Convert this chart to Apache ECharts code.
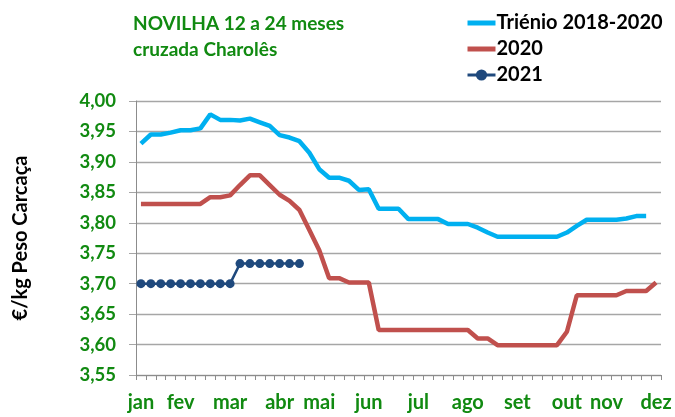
<!DOCTYPE html>
<html>
<head>
<meta charset="utf-8">
<script src="https://cdn.jsdelivr.net/npm/echarts@6/dist/echarts.min.js"></script>
<style>
html,body{margin:0;padding:0;background:#fff;}
#c{width:675px;height:417px;}
</style>
</head>
<body>
<div id="c"></div>
<script>
// Month labels and the week (category index) where each label sits
var monthLabels = ['jan','fev','mar','abr','mai','jun','jul','ago','set','out','nov','dez'];
var monthWeek = [0,4,9,14,18,23,28,33,38,43,47,52];
var weekCount = 53;

// Series values (€/kg), one value per week
var trienio = [3.930,3.945,3.945,3.948,3.952,3.952,3.955,3.978,3.969,3.969,
               3.968,3.971,3.965,3.959,3.944,3.940,3.934,3.915,3.888,3.874,
               3.874,3.869,3.854,3.855,3.823,3.823,3.823,3.806,3.806,3.806,
               3.806,3.798,3.798,3.798,3.792,3.784,3.777,3.777,3.777,3.777,
               3.777,3.777,3.777,3.784,3.795,3.805,3.805,3.805,3.805,3.807,
               3.811,3.811];
var y2020 = [3.831,3.831,3.831,3.831,3.831,3.831,3.831,3.842,3.842,3.845,
             3.862,3.878,3.878,3.862,3.846,3.836,3.821,3.788,3.755,3.709,
             3.709,3.702,3.702,3.702,3.624,3.624,3.624,3.624,3.624,3.624,
             3.624,3.624,3.624,3.624,3.610,3.610,3.599,3.599,3.599,3.599,
             3.599,3.599,3.599,3.621,3.681,3.681,3.681,3.681,3.681,3.688,
             3.688,3.688,3.702];
var y2021 = [3.700,3.700,3.700,3.700,3.700,3.700,3.700,3.700,3.700,3.700,
             3.733,3.733,3.733,3.733,3.733,3.733,3.733];

// Y axis ticks
var yMin = 3.55, yMax = 4.00, yStep = 0.05;

var categories = [];
for (var i = 0; i < weekCount; i++) {
  var k = monthWeek.indexOf(i);
  categories.push(k >= 0 ? monthLabels[k] : '');
}

var green = '#118a11';
var font = 'Lato, "Liberation Sans", sans-serif';
var chart = echarts.init(document.getElementById('c'), null, {renderer: 'canvas'});
chart.setOption({
  animation: false,
  backgroundColor: '#ffffff',
  title: {
    text: 'NOVILHA 12 a 24 meses\ncruzada Charolês',
    left: 128, top: 6,
    textStyle: {color: green, fontSize: 19, fontWeight: 'bold', fontFamily: font, lineHeight: 26}
  },
  legend: {
    orient: 'vertical',
    left: 460, top: 7,
    itemWidth: 28, itemHeight: 14, itemGap: 4,
    textStyle: {color: '#000', fontSize: 20, lineHeight: 22, fontWeight: 'bold', fontFamily: font, padding: [0,0,0,-4]},
    data: [
      {name: 'Triénio 2018-2020', itemStyle: {opacity: 0}, lineStyle: {width: 5}},
      {name: '2020', itemStyle: {opacity: 0}, lineStyle: {width: 5}},
      {name: '2021', lineStyle: {width: 3}}
    ]
  },
  grid: {left: 136, right: 14, top: 101, bottom: 42},
  xAxis: {
    type: 'category',
    data: categories,
    boundaryGap: true,
    axisLine: {lineStyle: {color: '#8c8c8c', width: 1}},
    axisTick: {show: true, interval: 0, length: 5, lineStyle: {color: '#8c8c8c'}},
    axisLabel: {interval: 0, margin: 18, color: green, fontSize: 20, fontWeight: 'bold', fontFamily: font},
    splitLine: {show: false}
  },
  yAxis: {
    type: 'value',
    min: yMin, max: yMax, interval: yStep,
    name: '€/kg Peso Carcaça',
    nameLocation: 'middle',
    nameGap: 105,
    nameTextStyle: {color: '#000', fontSize: 20, fontWeight: 'bold', fontFamily: font},
    axisLine: {show: true, lineStyle: {color: '#8c8c8c', width: 1}},
    axisTick: {show: true, length: 7, lineStyle: {color: '#a6a6a6'}},
    axisLabel: {
      margin: 20, color: green, fontSize: 18.5, fontWeight: 'bold', fontFamily: font,
      formatter: function (v) { return v.toFixed(2).replace('.', ','); }
    },
    splitLine: {show: true, lineStyle: {color: '#a6a6a6', width: 1.3}}
  },
  series: [
    {
      name: 'Triénio 2018-2020', type: 'line', data: trienio,
      showSymbol: false, symbol: 'none',
      lineStyle: {color: '#00b0f0', width: 4.5},
      itemStyle: {color: '#00b0f0'}
    },
    {
      name: '2020', type: 'line', data: y2020,
      showSymbol: false, symbol: 'none',
      lineStyle: {color: '#c0504d', width: 4.5},
      itemStyle: {color: '#c0504d'}
    },
    {
      name: '2021', type: 'line', data: y2021,
      symbol: 'circle', symbolSize: 9,
      lineStyle: {color: '#1f497d', width: 2.5},
      itemStyle: {color: '#1f497d'}
    }
  ]
});
</script>
</body>
</html>
